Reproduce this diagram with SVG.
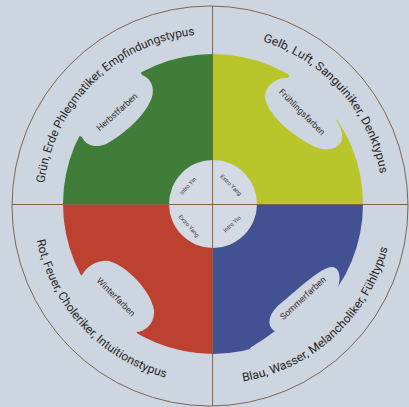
<svg xmlns="http://www.w3.org/2000/svg" width="409" height="407" viewBox="0 0 409 407">
  <defs>
    <style>
      .bg { fill: #cdd5e0; }
      .blob { fill: #cdd5e0; }
      .rule { stroke: #7d6650; stroke-width: 1; fill: none; }
      .ring { font-family: Roboto, "Liberation Sans", sans-serif; font-size: 11.8px; fill: #2a2725; }
      .season { font-family: Roboto, "Liberation Sans", sans-serif; font-size: 8.8px; fill: #35302d; text-anchor: middle; dominant-baseline: central; }
      .core { font-family: Roboto, "Liberation Sans", sans-serif; font-size: 5.8px; fill: #3d3835; text-anchor: middle; dominant-baseline: central; }
    </style>
    <!-- baselines for the outer ring captions -->
    <path id="arcTL" d="M 44.3,183.3 A 170 170 0 0 1 198.2,34.6"/>
    <path id="arcTR" d="M 262.7,41.4 A 170 170 0 0 1 380.4,174.5"/>
    <path id="arcBL" d="M 36.7,240.2 A 180 180 0 0 0 167.6,378.2"/>
    <path id="arcBR" d="M 243.0,381.5 A 180 180 0 0 0 388.1,245.7"/>
  </defs>

  <rect class="bg" x="0" y="0" width="409" height="407"/>

  <!-- top-left: green / autumn -->
  <g id="herbst">
    <path d="M 213,204 L 63,204 A 150 150 0 0 1 213,54 Z" fill="#3f7d38"/>
    <path class="blob" d="M 142,75 C 151,78 155,88 152,97 C 147,112 130,130 108,143 C 97,149 86,146 82,137 L 70.4,131.4 A 160 160 0 0 1 135.4,64.1 Z"/>
    <text class="season" transform="translate(117,112) rotate(-42)">Herbstfarben</text>
    <text class="ring"><textPath href="#arcTL" textLength="228" lengthAdjust="spacingAndGlyphs">Grün, Erde Phlegmatiker, Empfindungstypus</textPath></text>
  </g>

  <!-- top-right: yellow-green / spring -->
  <g id="fruehling">
    <path d="M 213,204 L 213,54 A 150 150 0 0 1 363,204 Z" fill="#b8c62c"/>
    <path class="blob" d="M 288,78 C 276,77 265,86 265,97 C 267,113 289,134 315,147 C 330,153 344,147 342,134 C 341,127 338,123 336,120 L 345.6,114.5 A 160 160 0 0 0 294.9,66.5 Z"/>
    <text class="season" transform="translate(302,112) rotate(45)">Frühlingsfarben</text>
    <text class="ring"><textPath href="#arcTR" textLength="186" lengthAdjust="spacingAndGlyphs">Gelb, Luft, Sanguiniker, Denktypus</textPath></text>
  </g>

  <!-- bottom-left: red / winter -->
  <g id="winter">
    <path d="M 213,204 L 213,354 A 150 150 0 0 1 63,204 Z" fill="#bd4131"/>
    <path class="blob" d="M 82,275 C 88,265 98,260 109,261 C 127,266 151,291 154,310 C 155,322 147,331 137,332 L 131.8,341.9 A 160 160 0 0 1 72.4,280.3 Z"/>
    <text class="season" transform="translate(116,297) rotate(45)">Winterfarben</text>
    <text class="ring"><textPath href="#arcBL" textLength="198" lengthAdjust="spacingAndGlyphs">Rot, Feuer, Choleriker, Intuitionstypus</textPath></text>
  </g>

  <!-- bottom-right: blue / summer -->
  <g id="sommer">
    <path d="M 213,204 L 363,204 A 150 150 0 0 1 213,354 Z" fill="#425192"/>
    <path class="blob" d="M 337,290 C 341,281 341,269 333,267 C 323,265 298,289 280,304 C 267,315 267,327 275,331 C 267,337 258,343 250,348 L 252.8,359 A 160 160 0 0 0 344.5,295.1 Z"/>
    <text class="season" transform="translate(303,298) rotate(-43)">Sommerfarben</text>
    <text class="ring"><textPath href="#arcBR" textLength="208" lengthAdjust="spacingAndGlyphs">Blau, Wasser, Melancholiker, Fühltypus</textPath></text>
  </g>

  <!-- centre disc -->
  <g id="kern">
    <circle cx="213" cy="204" r="44" fill="#d3dae4"/>
    <text class="core" transform="translate(188,186) rotate(-48)">Intro Yin</text>
    <text class="core" transform="translate(231,185) rotate(45)">Extro Yang</text>
    <text class="core" transform="translate(189,226) rotate(48)">Extro Yang</text>
    <text class="core" transform="translate(232,224) rotate(-42)">Intro Yin</text>
  </g>

  <!-- axes and outer boundary -->
  <g id="linien">
    <line class="rule" x1="212.6" y1="6" x2="212.6" y2="406"/>
    <line class="rule" x1="12" y1="204.5" x2="408" y2="204.5"/>
    <ellipse class="rule" cx="210" cy="206" rx="198" ry="200"/>
  </g>
</svg>
